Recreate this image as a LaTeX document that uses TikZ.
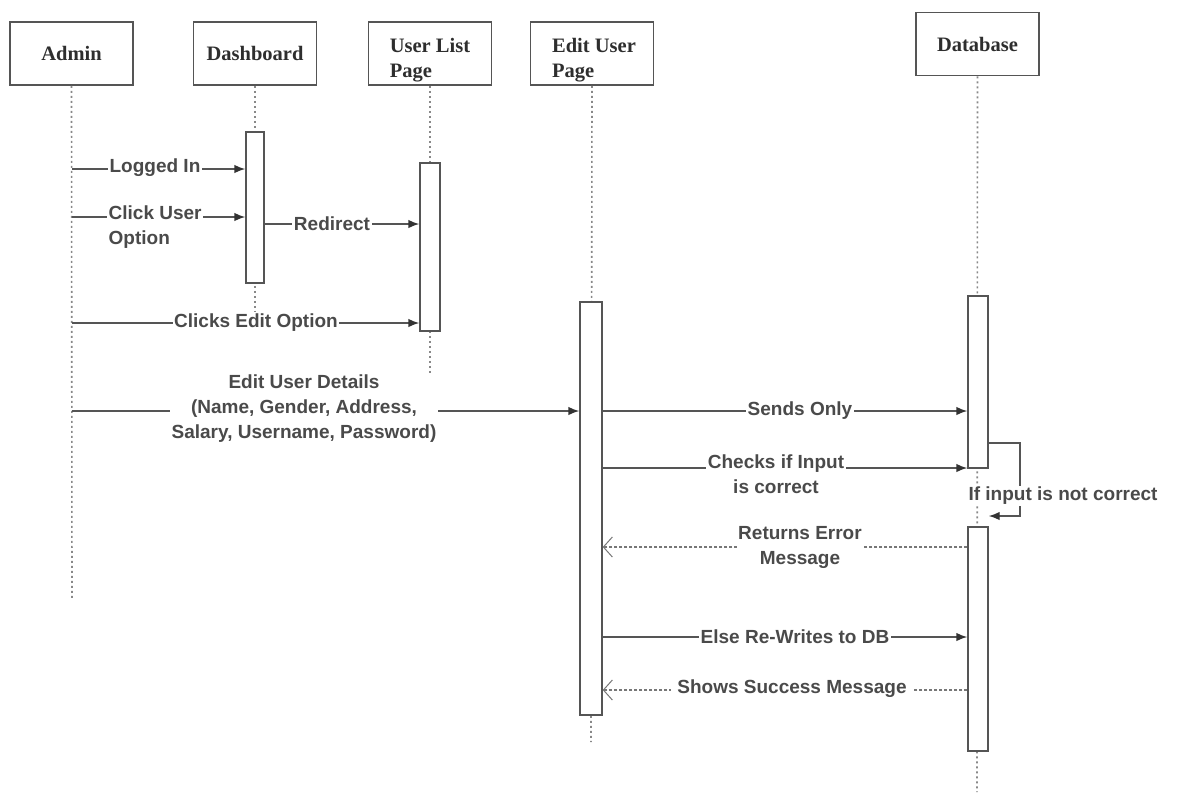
\documentclass[tikz,border=0pt]{standalone}
\usepackage{fontspec}
\setmainfont{Liberation Serif}
\setsansfont{Liberation Sans}
\usetikzlibrary{arrows.meta}
\definecolor{ink}{HTML}{555555}
\definecolor{txt}{HTML}{4A4A4A}
\definecolor{head}{HTML}{2E2E2E}
\tikzset{
  x=1pt, y=-1pt,
  actor/.style={draw=ink, line width=1.6pt, fill=white, minimum width=123pt, minimum height=63pt,
    font=\rmfamily\bfseries\fontsize{20.5}{25}\selectfont, text=head, align=left},
  actortext/.style={font=\rmfamily\bfseries\fontsize{20.5}{25}\selectfont, text=head, align=left},
  life/.style={draw=ink!70, line width=1.6pt, dash pattern=on 2pt off 3pt},
  act/.style={draw=ink, line width=1.4pt, fill=white},
  msg/.style={draw=ink, line width=1.4pt, -{Latex[length=11pt,width=8.5pt,color=black!80]}},
  ret/.style={draw=ink!80, line width=1.3pt, dash pattern=on 3pt off 2pt,
    -{Straight Barb[length=9pt,width=20pt,line width=1pt]}},
  lbl/.style={fill=white, inner sep=1.5pt, text=txt,
    font=\sffamily\bfseries\fontsize{19}{25}\selectfont, align=center},
}
\begin{document}
\begin{tikzpicture}
\useasboundingbox (0,0) rectangle (1177,793);

% participants
\node[actor] (admin) at (71.5,53.5) {Admin};
\node[actor] (dash)  at (255,53.5) {Dashboard};
\node[actor] (ulist) at (430,53.5) {};
\node[actortext] (ulistT) at (430,60) {User List\\Page};
\node[actor] (edit)  at (592,53.5) {};
\node[actortext] (editT) at (594,60) {Edit User\\Page};
\node[actor] (db)    at (977.5,44) {Database};

% lifelines
\coordinate (adminEnd) at (72,600);
\coordinate (dashEnd)  at (255,312);
\coordinate (ulistEnd) at (430,393);
\coordinate (editEnd)  at (591,742);
\coordinate (dbEnd)    at (977,792);
\draw[life] (admin.south) -- (adminEnd);
\draw[life] (dash.south)  -- (dashEnd);
\draw[life] (ulist.south) -- (ulistEnd);
\draw[life] (edit.south)  -- (editEnd);
\draw[life] (db.south)    -- (dbEnd);

% activation bars
\node[act, minimum width=18pt, minimum height=151pt, inner sep=0pt] (dashA)  at (255,207.5) {};
\node[act, minimum width=20pt, minimum height=168pt, inner sep=0pt] (ulistA) at (430,247) {};
\node[act, minimum width=22pt, minimum height=413pt, inner sep=0pt] (editA)  at (591,508.5) {};
\node[act, minimum width=20pt, minimum height=172pt, inner sep=0pt] (dbA)    at (978,382) {};
\node[act, minimum width=20pt, minimum height=224pt, inner sep=0pt] (dbB)    at (978,639) {};

% message anchors on the lifelines
\coordinate (a1) at (72,169);  \coordinate (a2) at (72,217);
\coordinate (a3) at (72,323);  \coordinate (a4) at (72,411);

% admin -> dashboard / user list / edit page
\draw[msg] (a1) -- (a1 -| dashA.west);
\node[lbl] (m1) at (155,168) {Logged In};
\draw[msg] (a2) -- (a2 -| dashA.west);
\node[lbl, align=left, anchor=west] (m2) at (107,227) {Click User\\Option};
\coordinate (r1) at (dashA.east |- 0,224);
\draw[msg] (r1) -- (r1 -| ulistA.west);
\node[lbl] (m3) at (332,224) {Redirect};
\draw[msg] (a3) -- (a3 -| ulistA.west);
\node[lbl] (m4) at (256,323) {Clicks Edit Option};
\draw[msg] (a4) -- (a4 -| editA.west);
\node[lbl] (m5) at (304,409) {Edit User Details\\(Name, Gender, Address,\\Salary, Username, Password)};

% edit page <-> database
\coordinate (e1) at (editA.east |- 0,411);
\draw[msg] (e1) -- (e1 -| dbA.west);
\node[lbl] (m6) at (800,411) {Sends Only};
\coordinate (e2) at (editA.east |- 0,468);
\draw[msg] (e2) -- (e2 -| dbA.west);
\node[lbl] (m7) at (776,474) {Checks if Input\\is correct};

% self call on the database
\coordinate (s1) at (dbA.east |- 0,443);
\coordinate (s2) at (1020,443);
\coordinate (s3) at (1020,516);
\draw[msg] (s1) -- (s2) -- (s3) -- (s3 -| dbB.east);
\node[lbl] (m8) at (1063,496) {If input is not correct};

\coordinate (d1) at (dbB.west |- 0,547);
\draw[ret] (d1) -- (d1 -| editA.east);
\node[lbl] (m9) at (800,547) {Returns Error\\Message};
\coordinate (e3) at (editA.east |- 0,637);
\draw[msg] (e3) -- (e3 -| dbB.west);
\node[lbl] (m10) at (795,637) {Else Re-Writes to DB};
\coordinate (d2) at (dbB.west |- 0,690);
\draw[ret] (d2) -- (d2 -| editA.east);
\node[lbl, inner xsep=6pt] (m11) at (792,689) {Shows Success Message};
\end{tikzpicture}
\end{document}
